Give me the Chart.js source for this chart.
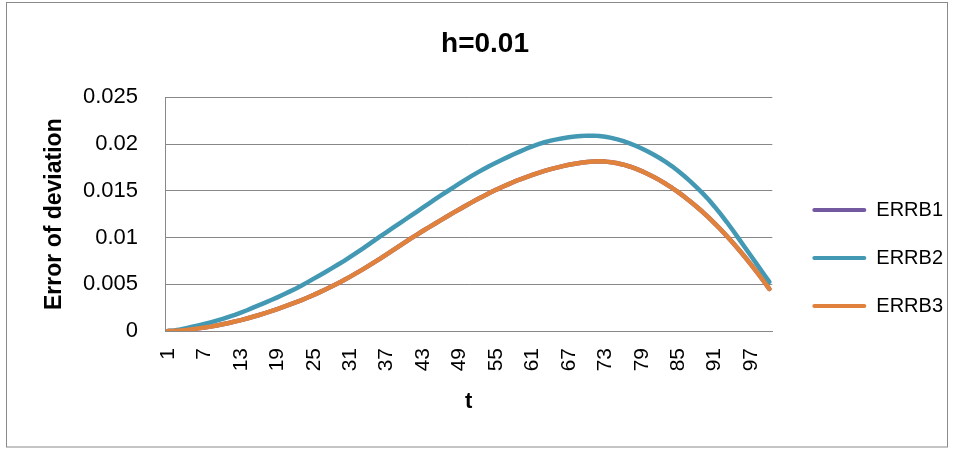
<!DOCTYPE html>
<html>
<head>
<meta charset="utf-8">
<script src="https://cdn.jsdelivr.net/npm/chart.js@4.4.1/dist/chart.umd.min.js"></script>
<style>
  html, body { margin: 0; padding: 0; background: #fff; }
  canvas { display: block; }
</style>
</head>
<body>
<canvas id="chart" width="954" height="449"></canvas>
<script>
// Time steps t = 1..100
const tValues = [
  1, 2, 3, 4, 5, 6, 7, 8, 9, 10,
  11, 12, 13, 14, 15, 16, 17, 18, 19, 20,
  21, 22, 23, 24, 25, 26, 27, 28, 29, 30,
  31, 32, 33, 34, 35, 36, 37, 38, 39, 40,
  41, 42, 43, 44, 45, 46, 47, 48, 49, 50,
  51, 52, 53, 54, 55, 56, 57, 58, 59, 60,
  61, 62, 63, 64, 65, 66, 67, 68, 69, 70,
  71, 72, 73, 74, 75, 76, 77, 78, 79, 80,
  81, 82, 83, 84, 85, 86, 87, 88, 89, 90,
  91, 92, 93, 94, 95, 96, 97, 98, 99, 100
];

// Error of deviation per series
const errb1 = [
  0.00000, 0.00002, 0.00006, 0.00012, 0.00020, 0.00028, 0.00037, 0.00047, 0.00059, 0.00072,
  0.00086, 0.00101, 0.00117, 0.00134, 0.00152, 0.00171, 0.00191, 0.00212, 0.00234, 0.00257,
  0.00281, 0.00306, 0.00331, 0.00358, 0.00386, 0.00416, 0.00447, 0.00479, 0.00512, 0.00546,
  0.00582, 0.00619, 0.00657, 0.00696, 0.00736, 0.00777, 0.00819, 0.00862, 0.00905, 0.00948,
  0.00991, 0.01032, 0.01072, 0.01111, 0.01150, 0.01189, 0.01228, 0.01266, 0.01303, 0.01340,
  0.01376, 0.01411, 0.01445, 0.01478, 0.01510, 0.01540, 0.01569, 0.01597, 0.01623, 0.01647,
  0.01670, 0.01692, 0.01712, 0.01731, 0.01748, 0.01764, 0.01778, 0.01790, 0.01800, 0.01808,
  0.01813, 0.01815, 0.01812, 0.01805, 0.01794, 0.01779, 0.01760, 0.01737, 0.01710, 0.01680,
  0.01647, 0.01611, 0.01572, 0.01530, 0.01485, 0.01437, 0.01386, 0.01332, 0.01275, 0.01215,
  0.01152, 0.01086, 0.01017, 0.00945, 0.00870, 0.00792, 0.00711, 0.00627, 0.00540, 0.00450
];

const errb2 = [
  0.00000, 0.00006, 0.00016, 0.00030, 0.00045, 0.00060, 0.00076, 0.00093, 0.00111, 0.00130,
  0.00151, 0.00173, 0.00197, 0.00222, 0.00250, 0.00276, 0.00303, 0.00331, 0.00360, 0.00390,
  0.00421, 0.00453, 0.00487, 0.00523, 0.00560, 0.00597, 0.00634, 0.00672, 0.00711, 0.00750,
  0.00792, 0.00835, 0.00879, 0.00924, 0.00970, 0.01014, 0.01058, 0.01102, 0.01146, 0.01190,
  0.01234, 0.01278, 0.01322, 0.01366, 0.01410, 0.01453, 0.01495, 0.01537, 0.01579, 0.01620,
  0.01659, 0.01697, 0.01733, 0.01768, 0.01800, 0.01832, 0.01863, 0.01893, 0.01922, 0.01950,
  0.01975, 0.01998, 0.02019, 0.02036, 0.02050, 0.02062, 0.02072, 0.02080, 0.02086, 0.02090,
  0.02090, 0.02086, 0.02078, 0.02066, 0.02050, 0.02031, 0.02008, 0.01982, 0.01952, 0.01920,
  0.01885, 0.01848, 0.01807, 0.01762, 0.01712, 0.01658, 0.01601, 0.01540, 0.01475, 0.01406,
  0.01330, 0.01250, 0.01166, 0.01078, 0.00986, 0.00894, 0.00802, 0.00710, 0.00618, 0.00526
];

const errb3 = [
  0.00000, 0.00002, 0.00006, 0.00012, 0.00020, 0.00028, 0.00037, 0.00047, 0.00059, 0.00072,
  0.00086, 0.00101, 0.00117, 0.00134, 0.00152, 0.00171, 0.00191, 0.00212, 0.00234, 0.00257,
  0.00281, 0.00306, 0.00331, 0.00358, 0.00386, 0.00416, 0.00447, 0.00479, 0.00512, 0.00546,
  0.00582, 0.00619, 0.00657, 0.00696, 0.00736, 0.00777, 0.00819, 0.00862, 0.00905, 0.00948,
  0.00991, 0.01032, 0.01072, 0.01111, 0.01150, 0.01189, 0.01228, 0.01266, 0.01303, 0.01340,
  0.01376, 0.01411, 0.01445, 0.01478, 0.01510, 0.01540, 0.01569, 0.01597, 0.01623, 0.01647,
  0.01670, 0.01692, 0.01712, 0.01731, 0.01748, 0.01764, 0.01778, 0.01790, 0.01800, 0.01808,
  0.01813, 0.01815, 0.01812, 0.01805, 0.01794, 0.01779, 0.01760, 0.01737, 0.01710, 0.01680,
  0.01647, 0.01611, 0.01572, 0.01530, 0.01485, 0.01437, 0.01386, 0.01332, 0.01275, 0.01215,
  0.01152, 0.01086, 0.01017, 0.00945, 0.00870, 0.00792, 0.00711, 0.00627, 0.00540, 0.00450
];

// Axis ticks
const yTicks = [0, 0.005, 0.01, 0.015, 0.02, 0.025];
const xLabelStep = 6; // label every 6th step: 1, 7, 13, ...

const PURPLE = '#7459a0';
const TEAL = '#4399b3';
const ORANGE = '#e0823c';
const GRID = '#888888';

Chart.defaults.font.family = "'Liberation Sans', Arial, sans-serif";
Chart.defaults.color = '#000';

// White background and thin outer frame around the whole chart
const framePlugin = {
  id: 'frame',
  beforeDraw(chart) {
    const { ctx } = chart;
    ctx.save();
    ctx.fillStyle = '#ffffff';
    ctx.fillRect(0, 0, chart.width, chart.height);
    ctx.strokeStyle = '#8a8a8a';
    ctx.lineWidth = 1;
    ctx.strokeRect(6.5, 2.5, 941, 444.5);
    ctx.restore();
  }
};

// Move the legend column down beside the curves
const legendOffset = { dx: 12, dy: 33.5 };
const legendNudgePlugin = {
  id: 'legendNudge',
  afterLayout(chart) {
    const lg = chart.legend;
    if (!lg) return;
    lg.left += legendOffset.dx;
    lg.right += legendOffset.dx;
    lg.top += legendOffset.dy;
    lg.bottom += legendOffset.dy;
  }
};

new Chart(document.getElementById('chart'), {
  type: 'line',
  data: {
    labels: tValues,
    datasets: [
      { label: 'ERRB1', data: errb1, borderColor: PURPLE, backgroundColor: PURPLE, order: 2 },
      { label: 'ERRB2', data: errb2, borderColor: TEAL, backgroundColor: TEAL, order: 1 },
      { label: 'ERRB3', data: errb3, borderColor: ORANGE, backgroundColor: ORANGE, order: 0 }
    ]
  },
  options: {
    responsive: false,
    animation: false,
    devicePixelRatio: 1,
    layout: { padding: { left: 29, right: 13, top: 0, bottom: 0 } },
    elements: {
      line: { borderWidth: 4.5, tension: 0, fill: false, borderCapStyle: 'round', borderJoinStyle: 'round' },
      point: { radius: 0, hoverRadius: 0 }
    },
    plugins: {
      title: {
        display: true,
        text: 'h=0.01',
        color: '#000',
        font: { size: 28, weight: 'bold' },
        padding: { top: 27, bottom: 36.7 }
      },
      legend: {
        position: 'right',
        labels: {
          color: '#000',
          font: { size: 20 },
          boxWidth: 54,
          boxHeight: 4,
          padding: 28,
          useBorderRadius: true,
          borderRadius: 2,
          sort: (a, b) => a.datasetIndex - b.datasetIndex,
          generateLabels(chart) {
            return Chart.defaults.plugins.legend.labels.generateLabels(chart)
              .map(item => Object.assign(item, { lineWidth: 0 }));
          }
        }
      },
      tooltip: { enabled: false }
    },
    scales: {
      x: {
        type: 'category',
        offset: true,
        grid: { display: false, drawTicks: false },
        border: { display: true, color: GRID, width: 1 },
        ticks: {
          autoSkip: false,
          minRotation: 90,
          maxRotation: 90,
          padding: 17,
          color: '#000',
          font: { size: 21 },
          callback: (value, index) => (index % xLabelStep === 0 ? String(tValues[index]) : null)
        },
        title: {
          display: true,
          text: 't',
          color: '#000',
          font: { size: 22, weight: 'bold' },
          padding: { top: 0, bottom: 34 }
        },
        afterFit: (scale) => { scale.height = 118; }
      },
      y: {
        min: 0,
        max: 0.025,
        afterBuildTicks: (scale) => { scale.ticks = yTicks.map(v => ({ value: v })); },
        grid: { color: GRID, lineWidth: 1, drawTicks: false },
        border: { display: true, color: GRID, width: 1 },
        ticks: {
          color: '#000',
          font: { size: 22 },
          padding: 27,
          callback: (value) => String(value)
        },
        title: {
          display: true,
          text: 'Error of deviation',
          color: '#000',
          font: { size: 23, weight: 'bold' },
          padding: { top: 12.2, bottom: 0 }
        },
        afterFit: (scale) => { scale.width = 136; }
      }
    }
  },
  plugins: [framePlugin, legendNudgePlugin]
});
</script>
</body>
</html>
